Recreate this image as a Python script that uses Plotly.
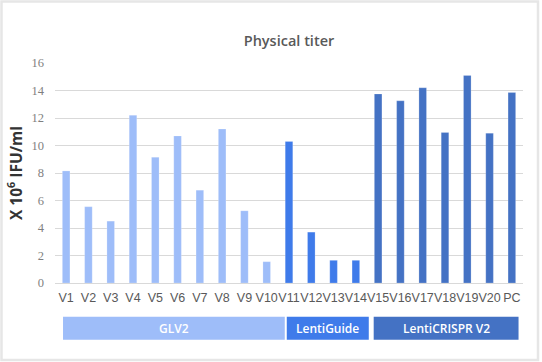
import plotly.graph_objects as go

categories = ["V1", "V2", "V3", "V4", "V5", "V6", "V7", "V8", "V9", "V10",
              "V11", "V12", "V13", "V14",
              "V15", "V16", "V17", "V18", "V19", "V20", "PC"]
values = [8.15, 5.55, 4.5, 12.2, 9.15, 10.7, 6.75, 11.2, 5.25, 1.55,
          10.3, 3.7, 1.65, 1.65,
          13.75, 13.25, 14.2, 10.95, 15.1, 10.9, 13.85]
groups = ["GLV2"] * 10 + ["LentiGuide"] * 4 + ["LentiCRISPR V2"] * 7
group_names = ["GLV2", "LentiGuide", "LentiCRISPR V2"]
group_colors = {"GLV2": "#9EBDF9", "LentiGuide": "#3F7BEA", "LentiCRISPR V2": "#4472C4"}
y_ticks = [0, 2, 4, 6, 8, 10, 12, 14, 16]

fig = go.Figure()
fig.add_trace(go.Bar(
    x=categories, y=values,
    marker=dict(color=[group_colors[g] for g in groups],
                line=dict(color="rgba(255,255,255,0.35)", width=0.6)),
    showlegend=False, hoverinfo="x+y",
))

# group bands below the axis (positions in category-index units)
band_spans = {"GLV2": (-0.14, 9.81), "LentiGuide": (9.9, 13.58), "LentiCRISPR V2": (13.8, 20.3)}
for g in group_names:
    x0, x1 = band_spans[g]
    fig.add_shape(type="rect", xref="x", yref="paper", x0=x0, x1=x1, y0=-0.258, y1=-0.153,
                  fillcolor=group_colors[g], line=dict(width=0), layer="above")
    fig.add_annotation(x=(x0 + x1) / 2, y=-0.2055, xref="x", yref="paper", text=g,
                       showarrow=False, font=dict(family="Open Sans", size=12, color="white",
                                                  weight=600),
                       xanchor="center", yanchor="middle")

# card frame
fig.add_shape(type="rect", xref="paper", yref="paper", x0=-55/468 + 1.5/468, x1=1 + 15/468,
              y0=-79/220 + 2/220, y1=1 + 61.5/220, line=dict(color="#E6E6E6", width=2.5),
              fillcolor="rgba(0,0,0,0)", layer="below")

fig.update_layout(
    width=542, height=362,
    margin=dict(l=55, r=19, t=63, b=79, autoexpand=False),
    paper_bgcolor="white", plot_bgcolor="white",
    bargap=0.66,
    title=dict(text="Physical titer", x=0.5, xref="paper", xanchor="center", y=0.888, yanchor="middle",
               font=dict(family="Open Sans", size=14.5, color="#595959", weight=600)),
    xaxis=dict(type="category", tickangle=0, automargin=False,
               tickfont=dict(family="Liberation Sans", size=12.5, color="#595959"),
               showgrid=False, showline=False, ticks="", ticklabelstandoff=5),
    yaxis=dict(range=[0, 16], tickvals=y_ticks, showgrid=True, gridcolor="#D9D9D9", gridwidth=1,
               automargin=False,
               zeroline=True, zerolinecolor="#D9D9D9", zerolinewidth=1,
               tickfont=dict(family="Liberation Serif", size=12.5, color="#7F7F7F"),
               ticklabelstandoff=10,
               title=dict(text="X 10<sup>6</sup> IFU/ml", standoff=5,
                          font=dict(family="Open Sans", size=15.5, color="#333333", weight=700))),
)

fig.write_html("out.html", config={"displayModeBar": False},
               post_script="document.body.style.margin='0';document.body.style.overflow='hidden';")
